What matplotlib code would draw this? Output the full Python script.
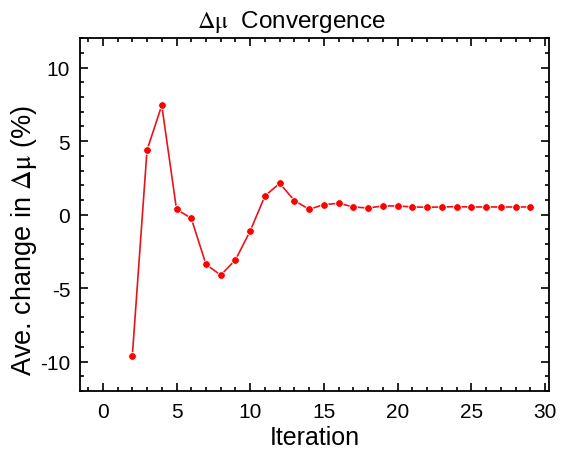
import numpy as np
import matplotlib.pyplot as plt
from matplotlib.ticker import MultipleLocator

plt.rcParams['font.family'] = ['Liberation Sans', 'DejaVu Sans']
plt.rcParams['mathtext.fontset'] = 'stix'
plt.rcParams['axes.unicode_minus'] = False

iteration = list(range(2, 30))
change = [-9.64, 4.39, 7.44, 0.36, -0.25, -3.39, -4.12, -3.08, -1.11, 1.27,
          2.13, 0.95, 0.36, 0.68, 0.77, 0.52, 0.45, 0.59, 0.59, 0.52,
          0.50, 0.52, 0.54, 0.52, 0.52, 0.52, 0.52, 0.52]

fig = plt.figure(figsize=(5.63, 4.52), dpi=100)
ax = fig.add_axes([0.142, 0.133, 0.834, 0.78])

ax.plot(iteration, change, color='#e8141a', lw=1.2, marker='o', ms=5.5,
        mfc='#ff0000', mec='white', mew=0.6)

ax.set_xlim(-1.55, 30.3)
ax.set_ylim(-12, 12)
ax.xaxis.set_major_locator(MultipleLocator(5))
ax.xaxis.set_minor_locator(MultipleLocator(1))
ax.yaxis.set_major_locator(MultipleLocator(5))
ax.yaxis.set_minor_locator(MultipleLocator(1))
ax.tick_params(which='both', direction='in', top=True, right=True, labelsize=15, width=1.2)
ax.tick_params(which='major', length=6)
ax.tick_params(which='minor', length=3)
ax.tick_params(axis='x', pad=8)
ax.tick_params(axis='y', pad=7)
for s in ax.spines.values():
    s.set_linewidth(1.3)

ax.set_xlabel('Iteration', fontsize=18, labelpad=3)
ax.set_ylabel(r'Ave. change in $\mathrm{\Delta\mu}$ (%)', fontsize=19.5)
ax.yaxis.set_label_coords(-0.088, 0.43)
ax.set_title(r'$\mathrm{\Delta\mu}$  Convergence', fontsize=17.5, pad=8, x=0.45)

fig.savefig('out.png', dpi=100)
